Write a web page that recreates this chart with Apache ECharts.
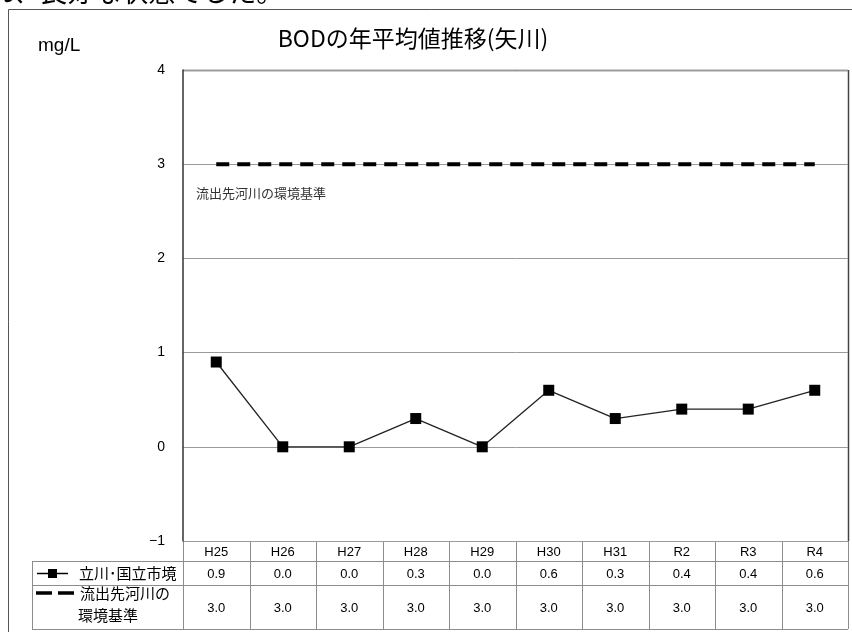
<!DOCTYPE html>
<html><head><meta charset="utf-8">
<script src="https://cdn.jsdelivr.net/npm/echarts@6/dist/echarts.min.js"></script>
<style>html,body{margin:0;padding:0;background:#fff}#c{width:852px;height:632px}</style>
</head><body><div id="c"></div>
<script>
var categories = ['H25','H26','H27','H28','H29','H30','H31','R2','R3','R4'];
var seriesNameA = '立川･国立市境';
var valuesA = [0.9, 0.0, 0.0, 0.3, 0.0, 0.6, 0.3, 0.4, 0.4, 0.6];
var seriesNameB = '流出先河川の環境基準';
var valuesB = [3.0, 3.0, 3.0, 3.0, 3.0, 3.0, 3.0, 3.0, 3.0, 3.0];
var yTicks = [-1, 0, 1, 2, 3, 4];

var FONT = '"Liberation Sans", "Noto Sans CJK JP", sans-serif';
var JP = '"Noto Sans CJK JP", sans-serif';
var G = {left: 183, right: 848, top: 70, bottom: 541};
var rowTops = [541, 561, 585, 629];
var labelLeft = 32;
var lineCol = '#8c8c8c';

var chart = echarts.init(document.getElementById('c'), null, {renderer: 'canvas'});

function buildGraphics() {
  var g = [];
  // top page text (cut off by the crop)
  g.push({type: 'text', left: -14, top: -22, style: {text: 'れ、良好な状態でした。', font: '27px ' + JP, fill: '#000'}});
  // outer frame
  g.push({type: 'rect', shape: {x: 8.5, y: 9.5, width: 860, height: 640}, style: {fill: 'none', stroke: '#555', lineWidth: 1}});
  // title + unit
  g.push({type: 'text', x: 413, y: 38, style: {text: 'BODの年平均値推移(矢川)', font: '23px ' + JP, fill: '#000', textAlign: 'center', textVerticalAlign: 'middle'}});
  g.push({type: 'text', x: 38, y: 46, style: {text: 'mg/L', font: '19px ' + FONT, fill: '#000', textAlign: 'left', textVerticalAlign: 'middle'}});
  // annotation
  g.push({type: 'text', x: 196, y: 193, style: {text: '流出先河川の環境基準', font: '13px ' + JP, fill: '#333', textAlign: 'left', textVerticalAlign: 'middle'}});
  // plot top & right border
  g.push({type: 'line', shape: {x1: G.left, y1: G.top + 0.5, x2: G.right, y2: G.top + 0.5}, style: {stroke: '#444', lineWidth: 1.5}});
  g.push({type: 'line', shape: {x1: G.right + 0.5, y1: G.top, x2: G.right + 0.5, y2: G.bottom}, style: {stroke: '#444', lineWidth: 1.5}});

  // table
  var n = categories.length;
  var cw = (G.right - G.left) / n;
  var lines = [];
  lines.push([G.left, rowTops[0], G.right, rowTops[0]]);
  for (var r = 1; r < rowTops.length; r++) lines.push([labelLeft, rowTops[r], G.right, rowTops[r]]);
  lines.push([labelLeft, rowTops[1], labelLeft, rowTops[3]]);
  for (var i = 0; i <= n; i++) {
    var x = Math.round(G.left + i * cw);
    lines.push([x, rowTops[0], x, rowTops[3]]);
  }
  lines.forEach(function (l) {
    var h = l[1] === l[3];
    g.push({type: 'line', shape: {x1: l[0] + (h ? 0 : 0.5), y1: l[1] + (h ? 0.5 : 0), x2: l[2] + (h ? 0 : 0.5), y2: l[3] + (h ? 0.5 : 0)}, style: {stroke: lineCol, lineWidth: 1}});
  });
  for (var j = 0; j < n; j++) {
    var cx = G.left + (j + 0.5) * cw;
    g.push({type: 'text', x: cx, y: (rowTops[0] + rowTops[1]) / 2 + 1, style: {text: categories[j], font: '13px ' + FONT, fill: '#000', textAlign: 'center', textVerticalAlign: 'middle'}});
    g.push({type: 'text', x: cx, y: (rowTops[1] + rowTops[2]) / 2 + 1, style: {text: valuesA[j].toFixed(1), font: '13px ' + FONT, fill: '#000', textAlign: 'center', textVerticalAlign: 'middle'}});
    g.push({type: 'text', x: cx, y: (rowTops[2] + rowTops[3]) / 2 + 1, style: {text: valuesB[j].toFixed(1), font: '13px ' + FONT, fill: '#000', textAlign: 'center', textVerticalAlign: 'middle'}});
  }
  // legend keys
  var y1 = (rowTops[1] + rowTops[2]) / 2 + 0.5;
  g.push({type: 'line', shape: {x1: 37, y1: y1, x2: 68, y2: y1}, style: {stroke: '#000', lineWidth: 1.5}});
  g.push({type: 'rect', shape: {x: 48, y: y1 - 4.5, width: 9, height: 9}, style: {fill: '#000'}});
  g.push({type: 'text', x: 79, y: y1, style: {text: seriesNameA, font: '15px ' + JP, fill: '#000', textAlign: 'left', textVerticalAlign: 'middle'}});
  var y2 = 593;
  g.push({type: 'line', shape: {x1: 36, y1: y2, x2: 78, y2: y2}, style: {stroke: '#000', lineWidth: 3.5, lineDash: [16, 6]}});
  g.push({type: 'text', x: 80, y: y2, style: {text: '流出先河川の', font: '15px ' + JP, fill: '#000', textAlign: 'left', textVerticalAlign: 'middle'}});
  g.push({type: 'text', x: 108, y: 615, style: {text: '環境基準', font: '15px ' + JP, fill: '#000', textAlign: 'center', textVerticalAlign: 'middle'}});
  return g;
}

chart.setOption({
  animation: false,
  backgroundColor: '#fff',
  grid: {left: G.left, right: 852 - G.right, top: G.top, bottom: 632 - G.bottom, containLabel: false},
  xAxis: {
    type: 'category', data: categories, boundaryGap: true,
    axisLine: {show: false}, axisTick: {show: false}, axisLabel: {show: false}, splitLine: {show: false}
  },
  yAxis: {
    type: 'value', min: yTicks[0], max: yTicks[yTicks.length - 1], interval: 1,
    axisLine: {show: true, lineStyle: {color: '#333', width: 1.5}},
    axisTick: {show: false},
    axisLabel: {color: '#000', fontSize: 14, fontFamily: FONT, margin: 18,
      formatter: function (v) { return v < 0 ? '\u2212' + Math.abs(v) : String(v); }},
    splitLine: {show: true, lineStyle: {color: '#9a9a9a', width: 1}}
  },
  series: [
    {
      name: seriesNameB, type: 'line', data: valuesB, symbol: 'none',
      lineStyle: {color: '#000', width: 4, type: [13, 8]}, z: 3
    },
    {
      name: seriesNameA, type: 'line', data: valuesA, symbol: 'rect', symbolSize: 11,
      itemStyle: {color: '#000'}, lineStyle: {color: '#222', width: 1.3}, z: 4
    }
  ],
  graphic: buildGraphics()
});
</script></body></html>
